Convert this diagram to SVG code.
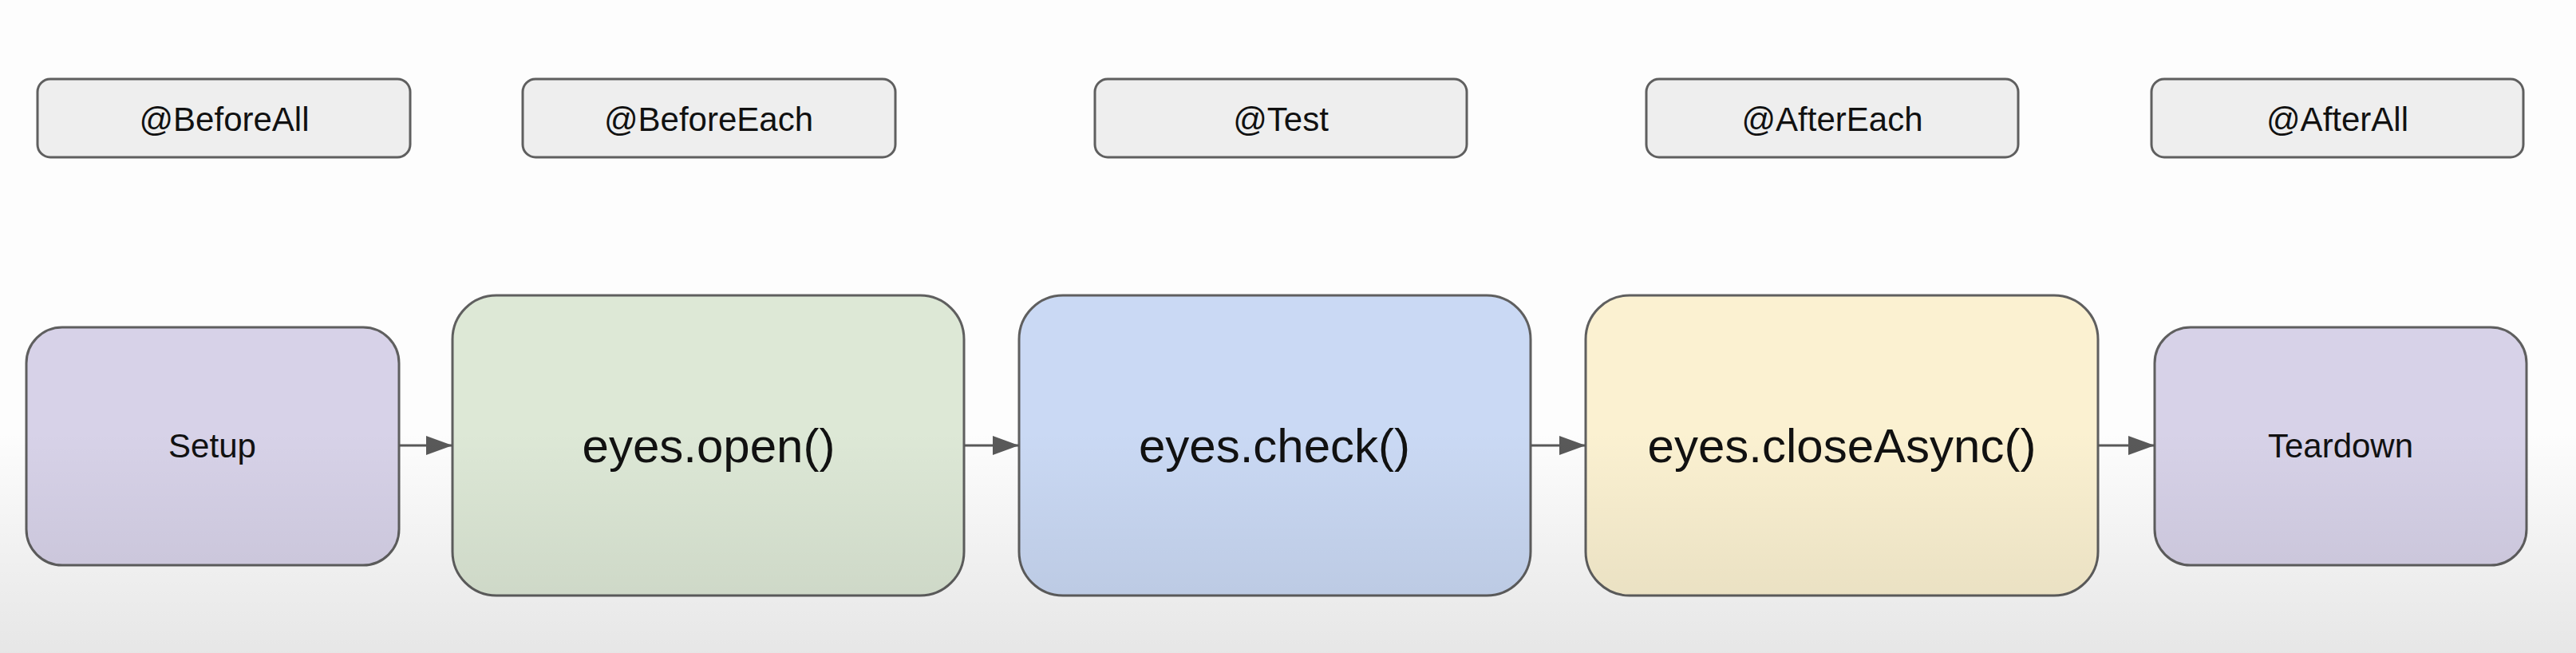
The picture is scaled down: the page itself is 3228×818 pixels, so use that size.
<svg xmlns="http://www.w3.org/2000/svg" width="3228" height="818" viewBox="0 0 3228 818">
<style>
.lbl{fill:#eeeeee;stroke:#5f5f5f;stroke-width:3}
.box{stroke:#5f5f5f;stroke-width:3}
.t{font-family:"Liberation Sans",Arial,sans-serif;fill:#111;text-anchor:middle}
.s{font-size:42px}
.b{font-size:60px}
.conn{stroke:#595959;stroke-width:3;fill:none;marker-end:url(#ah)}
</style>
<defs>
<marker id="ah" markerUnits="userSpaceOnUse" markerWidth="34" markerHeight="26" refX="33" refY="12" orient="auto">
<path d="M0,0 L33,12 L0,24 z" fill="#595959"/>
</marker>
<linearGradient id="shade" x1="0" y1="0" x2="0" y2="1">
<stop offset="0" stop-color="#000" stop-opacity="0"/>
<stop offset="1" stop-color="#000" stop-opacity="0.09"/>
</linearGradient>
</defs>
<rect x="0" y="0" width="3228" height="818" fill="#fdfdfd"/>
<g id="beforeAll"><rect class="lbl" x="47" y="99" width="467" height="98" rx="16"/><text class="t s" x="281" y="164">@BeforeAll</text></g>
<g id="beforeEach"><rect class="lbl" x="655" y="99" width="467" height="98" rx="16"/><text class="t s" x="888" y="164">@BeforeEach</text></g>
<g id="test"><rect class="lbl" x="1372" y="99" width="466" height="98" rx="16"/><text class="t s" x="1605" y="164">@Test</text></g>
<g id="afterEach"><rect class="lbl" x="2063" y="99" width="466" height="98" rx="16"/><text class="t s" x="2296" y="164">@AfterEach</text></g>
<g id="afterAll"><rect class="lbl" x="2696" y="99" width="466" height="98" rx="16"/><text class="t s" x="2929" y="164">@AfterAll</text></g>
<g id="setup"><rect class="box" x="33" y="410" width="467" height="298" rx="45" fill="#d7d2e8"/><text class="t s" x="266" y="573">Setup</text></g>
<g id="open"><rect class="box" x="567" y="370" width="641" height="376" rx="55" fill="#dde8d6"/><text class="t b" x="888" y="579">eyes.open()</text></g>
<g id="check"><rect class="box" x="1277" y="370" width="641" height="376" rx="55" fill="#cad9f4"/><text class="t b" x="1597" y="579">eyes.check()</text></g>
<g id="close"><rect class="box" x="1987" y="370" width="642" height="376" rx="55" fill="#fbf1d1"/><text class="t b" x="2308" y="579">eyes.closeAsync()</text></g>
<g id="teardown"><rect class="box" x="2700" y="410" width="466" height="298" rx="45" fill="#d7d2e8"/><text class="t s" x="2933" y="573">Teardown</text></g>
<g id="connectors">
<line class="conn" x1="500" y1="558" x2="567" y2="558"/>
<line class="conn" x1="1208" y1="558" x2="1277" y2="558"/>
<line class="conn" x1="1918" y1="558" x2="1987" y2="558"/>
<line class="conn" x1="2629" y1="558" x2="2700" y2="558"/>
</g>
<rect x="0" y="540" width="3228" height="278" fill="url(#shade)"/>
</svg>
